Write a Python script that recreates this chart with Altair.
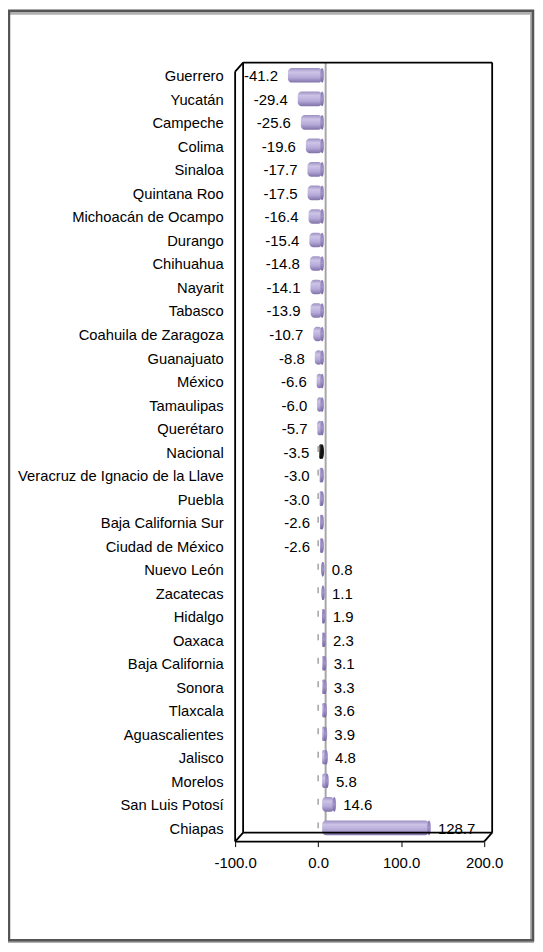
import altair as alt
import pandas as pd

states = ["Guerrero", "Yucatán", "Campeche", "Colima", "Sinaloa", "Quintana Roo",
          "Michoacán de Ocampo", "Durango", "Chihuahua", "Nayarit", "Tabasco",
          "Coahuila de Zaragoza", "Guanajuato", "México", "Tamaulipas", "Querétaro",
          "Nacional", "Veracruz de Ignacio de la Llave", "Puebla", "Baja California Sur",
          "Ciudad de México", "Nuevo León", "Zacatecas", "Hidalgo", "Oaxaca",
          "Baja California", "Sonora", "Tlaxcala", "Aguascalientes", "Jalisco",
          "Morelos", "San Luis Potosí", "Chiapas"]
values = [-41.2, -29.4, -25.6, -19.6, -17.7, -17.5, -16.4, -15.4, -14.8, -14.1, -13.9,
          -10.7, -8.8, -6.6, -6.0, -5.7, -3.5, -3.0, -3.0, -2.6, -2.6, 0.8, 1.1, 1.9,
          2.3, 3.1, 3.3, 3.6, 3.9, 4.8, 5.8, 14.6, 128.7]
x_ticks = [-100, 0, 100, 200]

df = pd.DataFrame({"estado": states, "valor": values})
df["lo"] = df["valor"].clip(upper=0)
df["hi"] = df["valor"].clip(lower=0)
df["etiqueta"] = [f"{v:.1f}" for v in values]

W, H = 250, 779
FONT = "Liberation Sans"
PAD_IN = 0.38

xs = alt.Scale(domain=[-100, 200], nice=False, zero=False)
ys = alt.Scale(domain=states, paddingInner=PAD_IN, paddingOuter=0.19)

base = alt.Chart(df)

light = alt.Gradient(gradient="linear", x1=0, y1=0, x2=0, y2=1, stops=[
    alt.GradientStop(color="#9d90c2", offset=0),
    alt.GradientStop(color="#cdc4e7", offset=0.28),
    alt.GradientStop(color="#b5a9d8", offset=0.65),
    alt.GradientStop(color="#8172a9", offset=1)])
dark = alt.Gradient(gradient="linear", x1=0, y1=0, x2=0, y2=1, stops=[
    alt.GradientStop(color="#222222", offset=0),
    alt.GradientStop(color="#555555", offset=0.3),
    alt.GradientStop(color="#2a2a2a", offset=0.65),
    alt.GradientStop(color="#000000", offset=1)])
cap_light = alt.Gradient(gradient="linear", x1=0, y1=0, x2=0, y2=1, stops=[
    alt.GradientStop(color="#8a7bb4", offset=0),
    alt.GradientStop(color="#a294cb", offset=0.5),
    alt.GradientStop(color="#74649e", offset=1)])

yenc = alt.Y("estado:N", sort=states, scale=ys,
             axis=alt.Axis(title=None, domain=False, ticks=False, labelPadding=12,
                           labelLimit=400, labelFontSize=14.8, labelFont=FONT,
                           labelColor="#000"))
xenc = alt.X("lo:Q", scale=xs,
             axis=alt.Axis(title=None, values=x_ticks, format=".1f", domain=False,
                           grid=False, tickSize=5, tickColor="#000", tickWidth=1,
                           labelFontSize=15, labelFont=FONT, labelColor="#000",
                           labelPadding=9, labelFlush=False, labelOverlap=False,
                           labelExpr="replace(datum.label, '\u2212', '-')"))
y_plain = alt.Y("estado:N", sort=states, scale=ys)

ellipse = "M0,-1 C0.33,-1 0.33,1 0,1 C-0.33,1 -0.33,-1 0,-1 Z"
OFF = dict(xOffset=4, x2Offset=4, yOffset=-2, y2Offset=-2)

not_nac = alt.datum.estado != "Nacional"
is_nac = alt.datum.estado == "Nacional"

bars_l = base.transform_filter(not_nac).mark_bar(
    fill=light, cornerRadius=4, **OFF).encode(x=xenc, x2="hi:Q", y=yenc)
bars_d = base.transform_filter(is_nac).mark_bar(
    fill=dark, cornerRadius=4, **OFF).encode(x=xenc, x2="hi:Q", y=yenc)

caps_l = base.transform_filter(not_nac).mark_point(
    shape=ellipse, filled=True, fill=cap_light, opacity=1, size=215, xOffset=4,
    yOffset=-2, strokeWidth=0).encode(x=alt.X("hi:Q", scale=xs), y=y_plain)
caps_d = base.transform_filter(is_nac).mark_point(
    shape=ellipse, filled=True, fill="#111111", opacity=1, size=215, xOffset=4,
    yOffset=-2, strokeWidth=0).encode(x=alt.X("hi:Q", scale=xs), y=y_plain)

lab_neg = base.transform_filter(alt.datum.valor < 0).mark_text(
    align="right", baseline="middle", dx=-6, dy=-1, fontSize=15, font=FONT, color="#000"
).encode(x=alt.X("valor:Q", scale=xs), y=y_plain, text="etiqueta:N")
lab_pos = base.transform_filter(alt.datum.valor >= 0).mark_text(
    align="left", baseline="middle", dx=13, dy=-1, fontSize=15, font=FONT, color="#000"
).encode(x=alt.X("valor:Q", scale=xs), y=y_plain, text="etiqueta:N")

# category-axis tick marks at the zero crossing, between the rows
cat_ticks = base.mark_tick(color="#7a7a7a", thickness=1.5, size=6, yOffset=-4.5).encode(
    x=alt.datum(0, scale=xs),
    y=alt.Y("estado:N", sort=states, scale=ys, bandPosition=0))

zero_back = alt.Chart(pd.DataFrame({"z": [0]})).mark_rule(
    color="#a6a6a6", strokeWidth=2, xOffset=7.5).encode(
    x=alt.X("z:Q", scale=xs), y=alt.value(-3), y2=alt.value(770))

# 3D frame of the plot (pixel coordinates)
seg = pd.DataFrame({
    "x0": [8, 8, 258, 8, 0, 0, 0, 0, 250],
    "y0": [-3, -3, -3, 770, 6, 779, 6, 779, 779],
    "x1": [258, 8, 258, 258, 0, 250, 8, 8, 258],
    "y1": [-3, 770, 770, 770, 779, 779, -3, 770, 770],
})
frame = alt.Chart(seg).mark_rule(color="#000", strokeWidth=1.8).encode(
    x=alt.X("x0:Q", scale=None), y=alt.Y("y0:Q", scale=None),
    x2="x1:Q", y2="y1:Q")

border_shadow = alt.Chart(pd.DataFrame({"a": [0]})).mark_rect(
    fill=None, stroke="#b0b0b0", strokeWidth=4).encode(
    x=alt.value(-229), x2=alt.value(298), y=alt.value(-53), y2=alt.value(879))
border = alt.Chart(pd.DataFrame({"a": [0]})).mark_rect(
    fill=None, stroke="#555555", strokeWidth=2.5).encode(
    x=alt.value(-227), x2=alt.value(299), y=alt.value(-55), y2=alt.value(878))

chart = alt.layer(
    border_shadow, border, zero_back, cat_ticks, bars_l, bars_d, caps_l, caps_d,
    lab_neg, lab_pos, frame
).properties(
    width=W, height=H,
    autosize=alt.AutoSizeParams(type="none"),
    padding={"left": 228, "top": 56, "right": 51, "bottom": 100},
).configure_view(stroke=None)

chart.save("out.html", embed_options={"renderer": "svg", "actions": False})
